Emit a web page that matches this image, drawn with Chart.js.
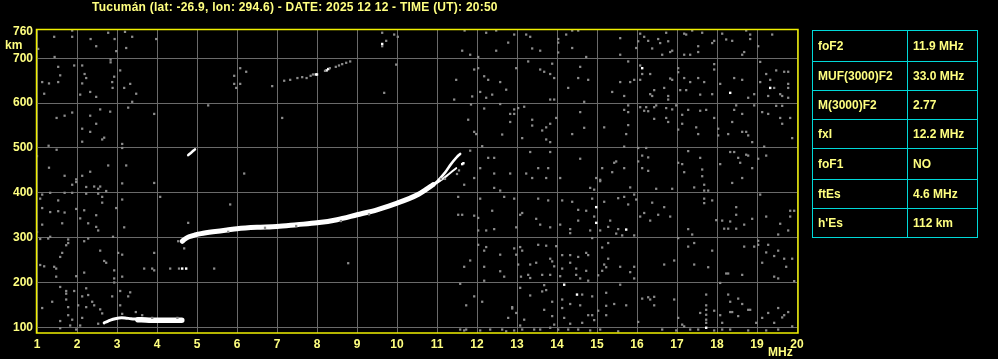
<!DOCTYPE html>
<html>
<head>
<meta charset="utf-8">
<script src="https://cdn.jsdelivr.net/npm/chart.js@4.4.1/dist/chart.umd.min.js"></script>
<style>
  html, body { margin: 0; padding: 0; background: #000; }
  #wrap { position: relative; width: 998px; height: 359px; background: #000; overflow: hidden; }
  #ionogram { position: absolute; left: 0; top: 0; }
  .lbl { position: absolute; color: #ffff80; font: bold 12px "Liberation Sans", Arial, sans-serif; line-height: 14px; white-space: nowrap; }
  #title { letter-spacing: 0.24px; }
  #params { position: absolute; left: 812px; top: 30px; border-collapse: collapse; }
  #params td { border: 1px solid #00d8d8; color: #ffff80; font: bold 12px "Liberation Sans", Arial, sans-serif;
               height: 29px; padding: 0 0 0 5px; box-sizing: border-box; vertical-align: middle; }
  #params td.k { width: 95px; }
  #params td.v { width: 70px; }
</style>
</head>
<body>
<div id="wrap">
  <canvas id="ionogram" width="998" height="359"></canvas>
  <div class="lbl" id="title" style="left:92px; top:0px;">Tucumán (lat: -26.9, lon: 294.6) - DATE: 2025 12 12 - TIME (UT): 20:50</div>
  <div class="lbl" style="left:5px; top:38px;">km</div>
  <div class="lbl" style="left:768px; top:345px;">MHz</div>
  <table id="params"></table>
</div>
<script>
// axis ticks
var xTicks = [1,2,3,4,5,6,7,8,9,10,11,12,13,14,15,16,17,18,19,20];
var yTicks = [100,200,300,400,500,600,700,760];

// table of scaled parameters
var paramNames  = ['foF2', 'MUF(3000)F2', 'M(3000)F2', 'fxI', 'foF1', 'ftEs', "h'Es"];
var paramValues = ['11.9 MHz', '33.0 MHz', '2.77', '12.2 MHz', 'NO', '4.6 MHz', '112 km'];

// F layer trace (MHz, km)
var fTraceF = [4.63,4.70,4.80,4.95,5.10,5.40,5.75,6.00,6.50,7.00,7.50,8.00,8.50,9.00,9.50,10.00,10.30,10.50,10.72,10.90];
var fTraceH = [292,297,302,306,309,313,317,320,323,325,329,333,340,351,362,377,387,395,407,418];
// split tip near foF2 / fxI
var oTipF = [10.90,11.00,11.20,11.35,11.50,11.58];
var oTipH = [418,425,445,464,480,487];
var xTipF = [10.90,11.10,11.30,11.48];
var xTipH = [416,428,442,455];
// sporadic E trace
var esThinF = [2.68,2.78,2.90,3.05,3.20,3.35,3.52];
var esThinH = [110,114,118,121,121,119,118];
var esThickF = [3.52,3.80,4.10,4.40,4.62];
var esThickH = [117,116,116,116,116];
// faint echo near 4.9 MHz and second hop
var echoF = [4.78,4.86,4.95];
var echoH = [484,490,497];
var hop2Gray = [[7.18,650],[7.33,652],[7.51,656],[7.63,658],[7.74,656],[7.84,661],[7.90,664],[8.20,672],[8.32,678],[8.47,681],[8.55,684],[8.63,687],[8.73,690],[8.83,693]];
var hop2White = [[7.97,664],[8.00,664],[8.24,673],[8.28,676]];

// white interference dots
var whiteDots = [[4.63,231],[4.73,231],[9.63,732],[11.63,464],[11.66,466],[14.98,368],[14.98,333],[14.18,195],[14.50,173],
  [16.13,678],[18.33,623],[19.33,634],[15.73,318],[17.73,99]];

// gray background noise, 1 - 6 MHz
var noiseLow = [[1.43,748],[1.88,748],[1.88,762],[2.78,757],[3.20,759],[3.38,748],[2.94,743],[3.98,743],[2.34,743],[2.48,727],
  [3.23,723],[1.03,721],[2.98,716],[1.44,703],[2.84,697],[2.84,691],[1.53,681],[1.93,684],[2.13,684],[3.08,673],
  [2.19,665],[1.58,662],[2.23,656],[2.93,659],[1.13,647],[1.30,644],[1.53,647],[2.13,644],[2.88,647],[3.33,643],
  [3.18,634],[2.89,634],[2.33,625],[2.08,619],[2.48,614],[1.18,621],[3.48,621],[3.38,603],[5.28,595],[3.28,590],
  [2.58,586],[2.83,581],[1.88,579],[1.69,572],[1.49,567],[2.33,572],[3.93,576],[2.48,554],[2.13,543],[2.33,536],
  [2.63,519],[2.68,523],[2.13,514],[1.29,505],[3.13,509],[3.13,500],[1.49,496],[1.00,482],[1.30,456],[2.78,461],
  [3.23,461],[2.33,447],[1.69,438],[2.13,438],[1.98,430],[1.98,424],[1.88,418],[2.43,414],[2.58,414],[2.53,409],
  [2.23,413],[3.13,421],[3.93,422],[2.73,404],[1.13,396],[1.33,400],[1.69,400],[1.88,400],[2.23,398],[2.53,398],
  [2.63,391],[1.08,387],[1.53,383],[2.63,378],[3.13,385],[4.08,391],[1.13,366],[1.33,357],[1.53,359],[1.69,356],
  [1.98,364],[2.18,361],[2.98,366],[2.48,350],[2.08,343],[2.28,332],[1.63,332],[1.13,329],[2.48,324],[2.53,316],
  [3.18,323],[4.78,333],[1.00,313],[2.90,302],[1.08,297],[1.28,298],[1.33,302],[1.78,296],[1.78,288],[2.18,292],
  [2.28,298],[1.73,283],[1.63,266],[1.58,257],[2.58,271],[3.03,266],[3.13,262],[3.93,266],[2.68,248],[2.73,244],
  [1.08,239],[1.18,236],[1.43,235],[1.48,231],[2.18,222],[2.93,227],[3.68,231],[3.88,231],[3.93,227],[4.33,231],
  [5.43,231],[4.55,231],[1.98,214],[1.48,213],[2.93,209],[3.13,213],[1.58,190],[1.73,181],[1.73,175],[2.23,187],
  [1.93,181],[2.93,200],[3.08,181],[3.33,178],[3.28,169],[2.28,172],[2.13,169],[1.73,162],[1.38,157],[2.03,149],
  [2.38,157],[2.43,149],[1.78,145],[1.13,143],[2.23,145],[2.88,169],[3.08,149],[2.58,140],[1.78,127],[2.63,131],
  [2.13,121],[1.88,117],[1.58,114],[1.83,104],[2.08,104],[2.53,108],[1.58,98],[1.98,95],
  [3.13,130],[3.47,134],[3.63,127],[3.88,121],[4.51,121],[4.53,292],[4.68,276]];

// gray background noise, 6 - 10.5 MHz
var noiseMid = [[9.63,757],[9.93,753],[10.02,748],[9.73,739],[9.63,727],[9.98,686],[9.68,623],[6.08,678],[5.93,661],[6.23,670],
  [5.93,643],[6.08,643],[5.98,634],[6.88,638],[7.13,567],[6.18,443],[5.83,374],[8.78,243],[5.78,313],[6.70,322],
  [7.48,326],[8.60,337],[9.30,352]];

// gray background noise, 10.5 - 15.2 MHz
var noiseHigh = [[11.69,762],[12.23,757],[12.48,762],[12.93,753],[13.23,753],[13.33,748],[14.03,743],[14.03,735],[14.23,753],[14.38,762],
  [14.53,762],[11.63,717],[11.83,708],[12.48,717],[12.78,735],[13.38,722],[13.58,717],[14.03,713],[14.38,723],[14.73,703],
  [12.03,703],[13.28,693],[13.88,688],[14.58,681],[11.93,675],[12.03,678],[12.98,678],[13.58,675],[13.68,670],[13.83,665],
  [13.93,656],[12.18,660],[12.28,652],[12.58,647],[12.73,630],[11.48,652],[14.53,656],[14.78,652],[14.28,634],[12.08,625],
  [12.38,619],[12.23,612],[11.43,608],[11.88,615],[13.83,608],[13.93,608],[14.68,603],[11.85,597],[12.18,588],[12.58,598],
  [12.93,586],[13.03,589],[13.18,592],[12.83,576],[12.93,576],[12.83,558],[13.38,563],[13.38,550],[13.73,546],[13.83,554],
  [13.63,539],[11.78,563],[11.93,536],[11.98,531],[12.63,530],[13.13,522],[13.73,519],[13.83,513],[13.98,567],[14.58,580],
  [14.68,545],[15.18,546],[14.38,531],[12.13,504],[11.83,494],[13.33,491],[13.83,491],[12.28,478],[12.43,478],[14.58,476],
  [12.08,455],[12.43,443],[12.83,443],[13.23,443],[13.53,455],[13.78,455],[11.93,433],[13.38,433],[13.73,433],[14.08,433],
  [15.13,455],[14.98,433],[15.08,429],[15.08,426],[12.43,411],[12.58,405],[11.68,418],[14.83,411],[14.93,407],[11.53,391],
  [12.08,387],[12.68,391],[12.93,387],[13.53,387],[13.78,383],[14.13,383],[14.38,380],[14.88,387],[15.18,380],[11.53,351],
  [11.63,351],[11.93,349],[12.03,344],[12.38,360],[13.13,355],[13.08,351],[13.48,342],[14.53,362],[14.73,360],[14.53,338],
  [14.93,347],[12.03,316],[12.23,316],[12.43,319],[12.98,323],[13.58,329],[13.83,323],[14.08,329],[14.33,319],[14.33,310],
  [14.83,316],[15.08,316],[14.88,299],[12.03,284],[12.23,279],[12.18,271],[12.58,262],[12.93,276],[13.08,279],[13.13,271],
  [13.53,284],[13.73,282],[13.98,281],[14.13,261],[14.33,261],[14.53,257],[14.73,266],[14.78,261],[15.13,278],[12.98,262],
  [11.83,249],[11.68,235],[12.18,235],[12.58,225],[13.03,240],[13.33,240],[13.48,244],[13.83,253],[13.88,247],[13.93,236],
  [14.13,231],[14.33,244],[14.48,231],[15.18,240],[14.73,226],[15.13,226],[12.18,204],[12.68,213],[13.10,213],[13.28,217],
  [13.33,210],[13.63,217],[13.83,217],[14.08,214],[14.48,217],[14.58,209],[14.78,204],[15.03,216],[11.58,197],[11.93,169],
  [11.73,149],[12.13,157],[13.08,188],[13.33,171],[13.68,194],[13.73,183],[13.63,180],[13.88,157],[14.13,162],[14.63,173],
  [14.88,169],[14.33,152],[14.58,149],[14.78,127],[14.88,127],[15.03,137],[12.88,145],[12.88,142],[12.98,132],[12.78,121],
  [13.18,117],[13.68,139],[13.88,125],[14.13,143],[14.18,121],[13.93,106],[14.33,108],[14.63,110],[14.93,116],[11.58,95],
  [11.68,93],[11.73,95],[12.08,93],[12.33,95],[12.63,95],[12.73,91],[12.93,93],[13.08,104],[13.13,95],[13.43,95],
  [13.58,95],[13.83,99],[14.03,95],[14.28,95],[14.53,95],[14.83,93],[15.08,95],[11.50,442],[11.55,450],[11.10,431],[11.20,431]];

// gray background noise, 15.2 - 20 MHz
var noiseFar = [[15.58,745],[16.08,755],[16.18,748],[16.03,738],[16.28,739],[16.38,722],[16.53,743],[16.58,734],[16.73,757],[16.78,738],
  [16.83,714],[16.88,717],[16.63,708],[17.18,755],[17.23,753],[17.38,762],[17.53,727],[17.53,714],[17.63,757],[17.88,734],
  [17.93,739],[18.13,755],[18.23,742],[18.38,739],[18.63,708],[18.68,714],[18.73,762],[18.83,753],[18.83,743],[19.03,727],
  [19.38,753],[15.58,708],[17.18,708],[17.33,708],[15.98,723],[15.78,693],[16.08,684],[16.13,665],[16.33,665],[16.08,652],
  [15.93,652],[15.83,647],[15.58,647],[15.38,625],[15.68,616],[16.43,629],[16.68,634],[16.33,620],[16.38,616],[16.78,616],
  [16.78,608],[16.83,655],[16.88,652],[17.03,678],[17.03,669],[17.18,656],[17.08,629],[17.23,629],[17.33,647],[17.53,656],
  [17.58,619],[17.93,687],[17.93,675],[17.68,647],[17.88,620],[18.08,643],[18.43,656],[18.63,652],[18.78,612],[18.93,620],
  [19.08,692],[19.08,647],[19.23,665],[19.33,652],[19.28,616],[19.43,634],[19.48,673],[19.68,670],[19.78,670],[19.78,643],
  [19.78,634],[19.78,612],[19.58,620],[19.63,616],[15.78,595],[15.78,580],[15.68,585],[15.78,551],[15.73,531],[16.08,591],
  [16.18,583],[16.28,582],[16.23,591],[16.43,591],[16.48,595],[16.43,565],[16.73,589],[16.73,567],[16.78,558],[16.88,586],
  [16.98,595],[17.13,574],[17.03,541],[17.13,554],[17.28,585],[17.48,546],[17.58,583],[17.53,531],[17.73,585],[17.93,567],
  [18.03,543],[18.03,528],[18.28,531],[18.38,558],[18.43,585],[18.48,595],[18.63,576],[18.63,536],[18.73,536],[18.78,528],
  [18.88,513],[18.93,595],[19.13,580],[19.28,576],[19.48,594],[19.63,594],[19.58,567],[19.63,554],[19.83,567],[19.88,522],
  [15.68,503],[16.03,500],[16.23,500],[16.13,483],[16.28,479],[16.03,470],[16.13,455],[16.28,449],[15.48,470],[15.43,467],
  [15.38,446],[15.68,455],[15.83,412],[16.48,409],[16.88,409],[17.03,467],[17.13,464],[17.18,446],[17.28,493],[17.58,478],
  [17.63,452],[17.63,437],[17.68,418],[17.43,412],[17.68,405],[17.78,405],[18.33,491],[18.43,491],[18.53,478],[18.73,485],
  [18.78,483],[18.58,467],[18.88,455],[18.63,433],[18.38,422],[18.08,464],[19.03,476],[19.23,483],[19.18,503],[15.93,396],
  [15.98,385],[15.53,388],[15.68,391],[15.78,374],[15.33,338],[15.28,324],[15.48,309],[15.53,319],[15.63,305],[15.93,305],
  [16.08,347],[16.18,355],[16.38,378],[16.33,338],[16.53,351],[16.68,368],[16.83,347],[17.28,319],[17.38,307],[17.68,387],
  [17.68,377],[17.88,383],[17.98,339],[18.13,338],[18.18,320],[18.28,320],[18.33,336],[18.48,368],[18.48,351],[18.48,320],
  [18.68,329],[18.88,342],[19.08,396],[19.23,347],[19.58,331],[19.78,316],[19.83,360],[19.93,360],[19.83,347],[19.53,307],
  [15.28,288],[15.28,253],[15.23,234],[15.58,235],[15.83,223],[15.93,235],[15.93,209],[16.68,240],[16.93,249],[17.03,299],
  [17.28,280],[17.43,288],[17.43,240],[17.78,234],[17.88,271],[18.23,220],[18.28,220],[18.63,217],[18.68,280],[18.93,280],
  [19.03,293],[19.03,284],[19.13,244],[19.23,267],[19.28,284],[19.43,259],[19.53,271],[19.68,253],[19.73,235],[19.88,253],
  [19.43,213],[19.53,209],[19.93,203],[15.58,195],[15.23,177],[15.43,152],[15.23,148],[15.73,149],[16.03,112],[15.23,127],
  [16.13,164],[16.28,167],[16.33,162],[16.43,149],[16.43,168],[16.93,162],[17.03,121],[17.13,106],[17.58,132],[17.73,173],
  [17.73,149],[17.73,139],[17.73,128],[17.73,117],[17.73,110],[17.93,137],[18.08,199],[18.08,127],[18.13,110],[18.28,173],
  [18.33,157],[18.33,134],[18.38,134],[18.53,164],[18.53,125],[18.63,152],[18.78,139],[18.83,139],[18.98,110],[19.13,121],
  [19.28,132],[19.43,110],[19.53,143],[19.63,122],[19.68,127],[19.78,134],[19.88,102],[16.63,95],[16.98,93],[17.18,102],
  [17.33,95],[17.53,95],[17.93,93],[18.13,95],[18.33,95],[18.78,93],[19.23,93],[19.53,95],[15.53,91]];

var yellow = '#ffff80';
var gridGray = '#6a6a6a';
var dotGray = '#8c8c8c';
var tickFont = { family: '"Liberation Sans", Arial, sans-serif', size: 12, weight: 'bold' };

function zip(xs, ys) {
  return xs.map(function (x, i) { return { x: x, y: ys[i] }; });
}
function pairs(list) {
  return list.map(function (p) { return { x: p[0], y: p[1] }; });
}
function trace(points, width) {
  return { data: points, showLine: true, borderColor: '#ffffff', borderWidth: width,
           pointRadius: 0, tension: 0.3, borderCapStyle: 'round', borderJoinStyle: 'round' };
}
function dots(points, color, r) {
  return { data: points, showLine: false, pointStyle: 'rect', pointRadius: r,
           backgroundColor: color, borderWidth: 0, pointHoverRadius: r };
}

var noiseAll = pairs(noiseLow.concat(noiseMid, noiseHigh, noiseFar, hop2Gray));

// the parameter table
var table = document.getElementById('params');
paramNames.forEach(function (name, i) {
  var row = table.insertRow();
  var a = row.insertCell(); a.className = 'k'; a.textContent = name;
  var b = row.insertCell(); b.className = 'v'; b.textContent = paramValues[i];
  if (i === 0 || i === 4) { a.style.height = b.style.height = '31px'; }
});

var frame = {
  id: 'frame',
  afterDraw: function (chart) {
    var ca = chart.chartArea, c = chart.ctx;
    c.save();
    c.strokeStyle = '#f0f000';
    c.lineWidth = 1.5;
    c.strokeRect(ca.left - 0.5, ca.top + 0.5, ca.right - ca.left + 1.5, ca.bottom - ca.top - 0.5);
    c.restore();
  }
};

var ionogram = new Chart(document.getElementById('ionogram'), {
  type: 'scatter',
  data: {
    datasets: [
      dots(noiseAll, dotGray, 1.6),
      dots(pairs(whiteDots.concat(hop2White)), '#ffffff', 1.7),
      trace(zip(esThinF, esThinH), 3),
      trace(zip(esThickF, esThickH), 5.5),
      trace(zip(echoF, echoH), 2.5),
      trace(zip(fTraceF, fTraceH), 5),
      trace(zip(oTipF, oTipH), 2.5),
      trace(zip(xTipF, xTipH), 2)
    ]
  },
  options: {
    responsive: false,
    animation: false,
    devicePixelRatio: 1,
    layout: { padding: { left: 0, right: 201, top: 29, bottom: 0 } },
    plugins: { legend: { display: false }, tooltip: { enabled: false } },
    scales: {
      x: {
        type: 'linear', min: 1, max: 20,
        afterFit: function (s) { s.height = 26; },
        afterBuildTicks: function (s) { s.ticks = xTicks.map(function (v) { return { value: v }; }); },
        grid: { color: gridGray, lineWidth: 1, drawTicks: false },
        border: { display: false },
        ticks: { color: yellow, font: tickFont, padding: 4, maxRotation: 0, autoSkip: false }
      },
      y: {
        type: 'linear', min: 87.3, max: 765.4,
        afterFit: function (s) { s.width = 37; },
        afterBuildTicks: function (s) { s.ticks = yTicks.map(function (v) { return { value: v }; }); },
        grid: {
          color: function (c) { return c.tick && c.tick.value === 760 ? 'rgba(0,0,0,0)' : gridGray; },
          lineWidth: 1, drawTicks: false
        },
        border: { display: false },
        ticks: { color: yellow, font: tickFont, padding: 4, autoSkip: false }
      }
    }
  },
  plugins: [frame]
});
</script>
</body>
</html>
